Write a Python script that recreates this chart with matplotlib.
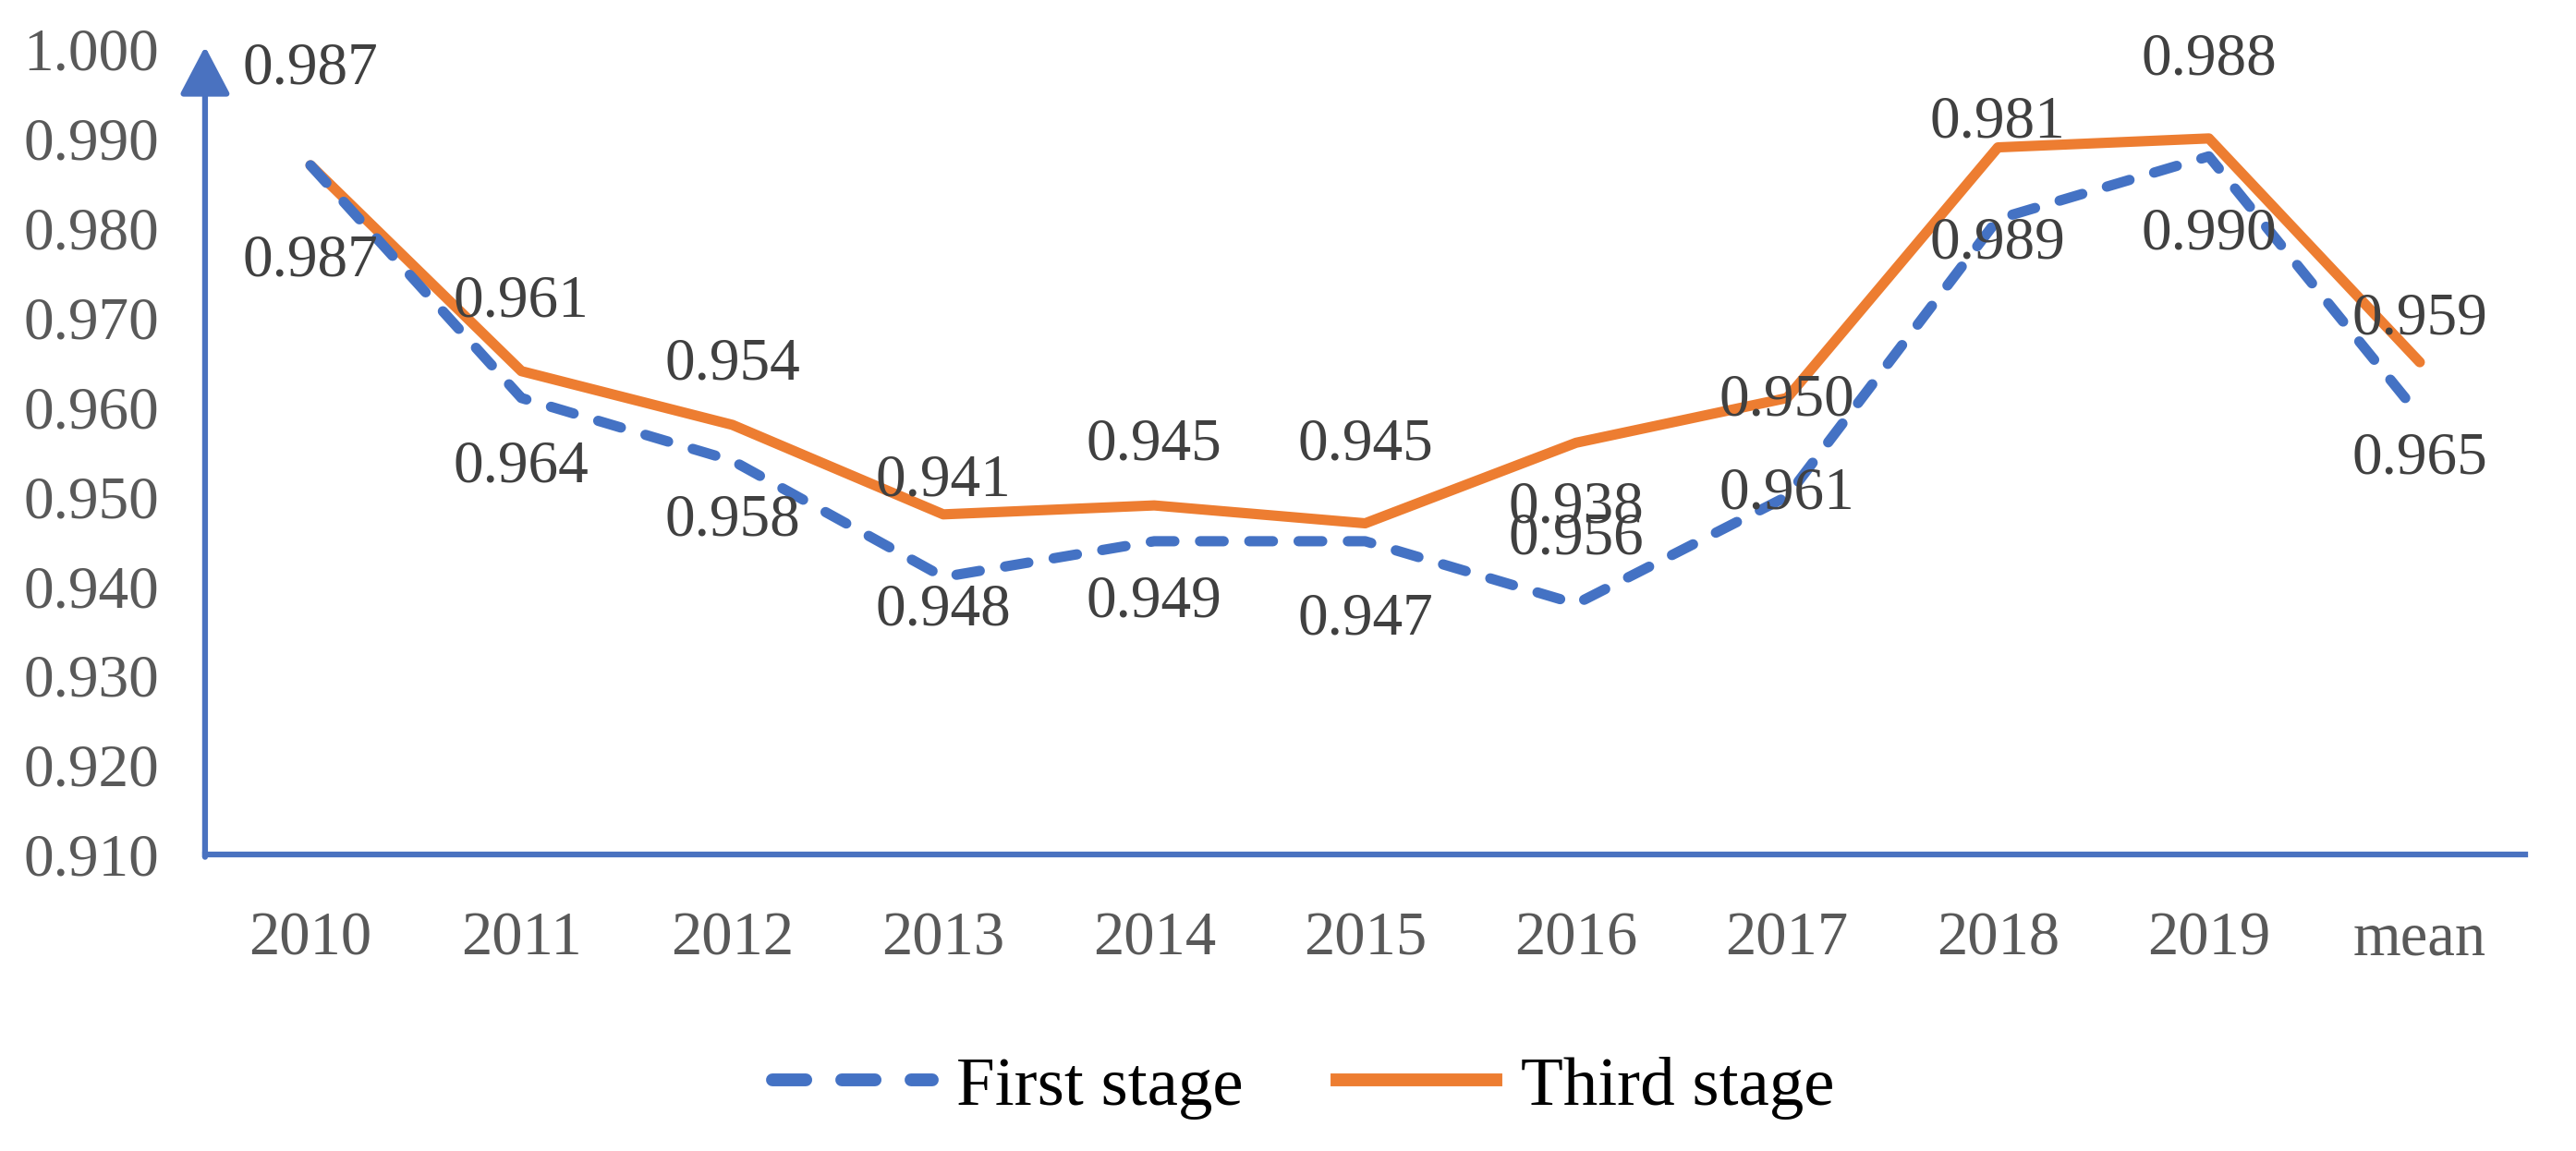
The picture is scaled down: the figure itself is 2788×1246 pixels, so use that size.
import matplotlib
matplotlib.use("Agg")
import matplotlib.pyplot as plt
from matplotlib.lines import Line2D

categories = ["2010", "2011", "2012", "2013", "2014", "2015", "2016", "2017", "2018", "2019", "mean"]
first_stage = [0.987, 0.961, 0.954, 0.941, 0.945, 0.945, 0.938, 0.950, 0.981, 0.988, 0.959]
third_stage = [0.987, 0.964, 0.958, 0.948, 0.949, 0.947, 0.956, 0.961, 0.989, 0.990, 0.965]
y_ticks = [0.910, 0.920, 0.930, 0.940, 0.950, 0.960, 0.970, 0.980, 0.990, 1.000]

BLUE = "#4472C4"
ORANGE = "#ED7D31"
AXIS = "#4A72C0"
FONT = "Liberation Serif"

plt.rcParams["font.family"] = [FONT, "DejaVu Serif"]

fig = plt.figure(figsize=(27.88, 12.46), dpi=100)
ax = fig.add_axes([0.0796, 0.2576, 0.9007, 0.6999])

x = list(range(len(categories)))
ax.plot(x, first_stage, color=BLUE, lw=8, linestyle=(0, (2.3, 2.5)),
        dash_capstyle="round", solid_joinstyle="round", zorder=3)
ax.plot(x, third_stage, color=ORANGE, lw=8, solid_capstyle="round",
        solid_joinstyle="round", zorder=2)

for i, v in enumerate(first_stage):
    ax.annotate(f"{v:.3f}", (i, v), xytext=(0, 75), textcoords="offset points",
                ha="center", va="center", fontsize=47, color="#404040", zorder=4)
for i, v in enumerate(third_stage):
    ax.annotate(f"{v:.3f}", (i, v), xytext=(0, -75), textcoords="offset points",
                ha="center", va="center", fontsize=47, color="#404040", zorder=4)

ax.set_xlim(-0.5, len(categories) - 0.5)
ax.set_ylim(0.910, 1.000)
ax.set_yticks(y_ticks)
ax.set_yticklabels([f"{t:.3f}" for t in y_ticks])
ax.set_xticks(x)
ax.set_xticklabels(categories)
ax.tick_params(axis="y", length=0, pad=36, labelsize=47, labelcolor="#595959")
ax.tick_params(axis="x", length=0, pad=44, labelsize=48, labelcolor="#595959")

for s in ["top", "right", "left"]:
    ax.spines[s].set_visible(False)
ax.spines["bottom"].set_color(AXIS)
ax.spines["bottom"].set_linewidth(4.5)

ax.annotate("", xy=(0, 1.003), xytext=(0, -0.003), xycoords="axes fraction",
            arrowprops=dict(arrowstyle="-|>,head_length=0.8,head_width=0.42",
                            color=AXIS, lw=4.5, mutation_scale=40,
                            shrinkA=0, shrinkB=0),
            annotation_clip=False)

handles = [
    Line2D([0], [0], color=BLUE, lw=10, linestyle=(0, (2.6, 2.8)), dash_capstyle="round"),
    Line2D([0], [0], color=ORANGE, lw=10),
]
fig.legend(handles, ["First stage", "Third stage"], loc="center",
           bbox_to_anchor=(0.506, 0.055), ncol=2, frameon=False,
           fontsize=54, handlelength=2.3, handletextpad=0.35, columnspacing=1.35)

fig.savefig("out.png", dpi=100, facecolor="white")
